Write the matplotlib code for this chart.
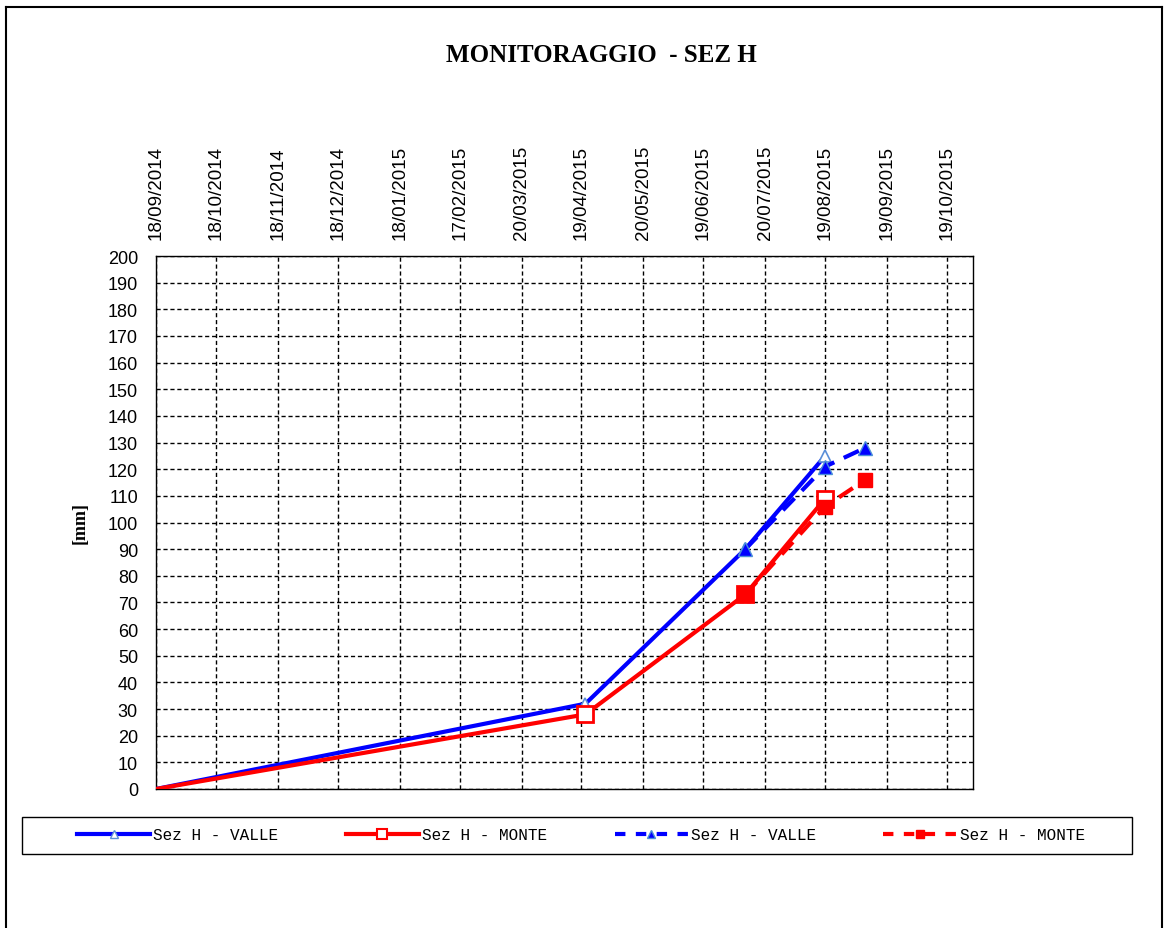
import numpy as np
import pandas as pd
import matplotlib
matplotlib.use("Agg")
import matplotlib.pyplot as plt
from matplotlib.lines import Line2D
from matplotlib.patches import Rectangle

# data
valle_dates = ["2014-09-18", "2015-04-21", "2015-07-10", "2015-08-19"]
valle_mm = [0, 32, 90, 125]
monte_dates = ["2014-09-18", "2015-04-21", "2015-07-10", "2015-08-19"]
monte_mm = [0, 28, 73, 109]
valle2_dates = ["2015-07-10", "2015-08-19", "2015-09-08"]
valle2_mm = [90, 121, 128]
monte2_dates = ["2015-07-10", "2015-08-19", "2015-09-08"]
monte2_mm = [73, 106, 116]

tick_labels = ["18/09/2014", "18/10/2014", "18/11/2014", "18/12/2014", "18/01/2015",
               "17/02/2015", "20/03/2015", "19/04/2015", "20/05/2015", "19/06/2015",
               "20/07/2015", "19/08/2015", "19/09/2015", "19/10/2015"]

fig = plt.figure(figsize=(11.7, 9.29), dpi=100)
ax = fig.add_axes([156/1170, 1 - 790/929, 817/1170, 533/929])

def d(lst):
    return pd.to_datetime(lst)

ax.plot(d(valle_dates), valle_mm, color="#0000ff", lw=3, marker="^", ms=9, markevery=[1, 2, 3],
        mfc="white", mec="#5a8fd8", mew=1.2, label="Sez H - VALLE", zorder=3)
ax.plot(d(monte_dates), monte_mm, color="#ff0000", lw=3, marker="s", ms=11, markevery=[1, 2, 3],
        mfc="white", mec="#ff0000", mew=2, label="Sez H - MONTE", zorder=3)
ax.plot(d(valle2_dates), valle2_mm, color="#0000ff", lw=3, ls=(0, (4, 2.5)), marker="^", ms=10,
        mfc="#0000ff", mec="#4a8fd8", label="Sez H - VALLE", zorder=4)
ax.plot(d(monte2_dates), monte2_mm, color="#ff0000", lw=3, ls=(0, (4, 2.5)), marker="s", ms=10,
        mfc="#ff0000", mec="#ff0000", label="Sez H - MONTE", zorder=4)

ticks = pd.to_datetime(tick_labels, format="%d/%m/%Y")
ax.set_xticks(ticks)
ax.set_xticklabels(tick_labels, rotation=90, fontsize=13.5, family="Liberation Sans")
ax.xaxis.tick_top()
ax.tick_params(axis="x", length=0, pad=12)
ax.set_xlim(pd.Timestamp("2014-09-18"), pd.Timestamp("2015-11-01"))

ax.set_ylim(0, 200)
ax.set_yticks(np.arange(0, 201, 10))
ax.tick_params(axis="y", length=0, pad=13, labelsize=13)
for lab in ax.get_yticklabels():
    lab.set_family("Liberation Sans")

ax.grid(True, color="black", ls=(0, (3, 2)), lw=1)
for s in ax.spines.values():
    s.set_color("black")
    s.set_linewidth(1)

ax.set_ylabel("[mm]", fontsize=13, fontweight="bold", family="Liberation Serif", labelpad=14)

fig.text(601/1170, 1 - 55/929, "MONITORAGGIO  - SEZ H", ha="center", va="center",
         fontsize=18, fontweight="bold", family="Liberation Serif")

# legend box drawn separately, entries centred inside it
fig.add_artist(Rectangle((22/1170, 1 - 855/929), 1110/1170, 37/929, fill=False,
                         edgecolor="black", lw=1, transform=fig.transFigure))
handles, labels = ax.get_legend_handles_labels()
leg_handles = [
    Line2D([], [], color="#0000ff", lw=3, marker="^", ms=6, mfc="white", mec="#5a8fd8"),
    Line2D([], [], color="#ff0000", lw=3, marker="s", ms=7, mfc="white", mec="#ff0000", mew=1.5),
    Line2D([], [], color="#0000ff", lw=3, ls=(0, (2.5, 2.5)), marker="^", ms=6, mfc="#0000ff", mec="#4a8fd8"),
    Line2D([], [], color="#ff0000", lw=3, ls=(0, (2.5, 2.5)), marker="s", ms=6, mfc="#ff0000", mec="#ff0000"),
]
leg = fig.legend(leg_handles, labels, loc="center", ncol=4,
                 bbox_to_anchor=(581/1170, 1 - 836/929),
                 prop={"family": "Liberation Mono", "size": 11.5},
                 handlelength=4.6, handletextpad=0.2, columnspacing=4.2,
                 frameon=False)

# outer border (top, left, right)
for xs, ys in [((6/1170, 1162/1170), (1 - 8/929, 1 - 8/929)),
               ((6/1170, 6/1170), (0, 1 - 8/929)),
               ((1162/1170, 1162/1170), (0, 1 - 8/929))]:
    fig.add_artist(Line2D(xs, ys, color="black", lw=1.5, transform=fig.transFigure))

fig.savefig("out.png", dpi=100)
